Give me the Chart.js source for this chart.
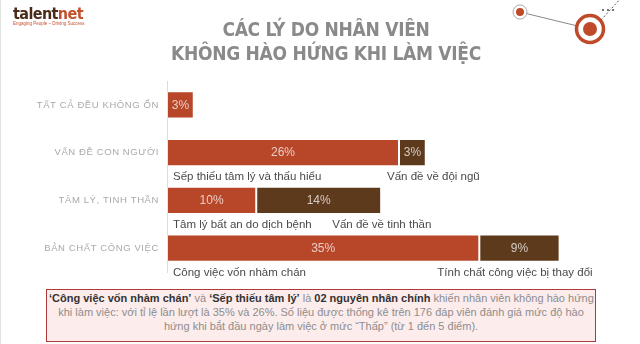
<!DOCTYPE html>
<html>
<head>
<meta charset="utf-8">
<script src="https://cdn.jsdelivr.net/npm/chart.js@4"></script>
<style>
  html, body { margin: 0; padding: 0; background: #fff; }
  #slide { position: relative; width: 640px; height: 344px; overflow: hidden; border-left: 1px solid #e2e2e2; box-sizing: border-box; }
  #chart { position: absolute; left: 0; top: 0; }
  .logo { position: absolute; left: 12px; top: 4px; font: bold 16px "DejaVu Sans Condensed", sans-serif; color: #4a2a18; letter-spacing: -0.6px; }
  .logo span { color: #c4512b; }
  .logo small { display: block; font: 4.5px "Liberation Sans", sans-serif; color: #c4512b; margin-top: -2px; letter-spacing: 0; }
  .title { position: absolute; left: 0; width: 650px; top: 17px; text-align: center; font: bold 19px/24px "DejaVu Sans Condensed", sans-serif; color: #8a8a8a; letter-spacing: -0.3px; }
  .note { position: absolute; left: 45px; top: 289px; width: 550px; height: 53px; box-sizing: border-box; background: #fcecec; border: 1.5px solid #b03a3a; padding: 1px 2px 0; text-align: center; font: 11px/14px "Liberation Sans", sans-serif; color: #8d8d8d; white-space: nowrap; }
  .note b { color: #333; }
  .deco { position: absolute; left: 500px; top: 0; }
</style>
</head>
<body>
<div id="slide">
  <canvas id="chart" width="640" height="344"></canvas>
  <div class="logo">talent<span>net</span><small>Engaging People – Driving Success</small></div>
  <div class="title">CÁC LÝ DO NHÂN VIÊN<br>KHÔNG HÀO HỨNG KHI LÀM VIỆC</div>
  <svg class="deco" width="140" height="60">
    <line x1="19" y1="12" x2="89" y2="29" stroke="#888" stroke-width="1"/>
    <line x1="100" y1="20" x2="120" y2="-2" stroke="#555" stroke-width="1" stroke-dasharray="2 2"/>
    <circle cx="19" cy="12" r="7" fill="#fff" stroke="#aaa" stroke-width="1"/>
    <circle cx="19" cy="12" r="4" fill="#bf4a2a"/>
    <circle cx="89" cy="29" r="13.5" fill="#fff" stroke="#bf4a2a" stroke-width="3.5"/>
    <circle cx="89" cy="29" r="7" fill="#bf4a2a"/>
    <circle cx="102" cy="10" r="0.9" fill="#333"/>
    <circle cx="107" cy="10" r="0.9" fill="#333"/>
    <circle cx="112" cy="10" r="0.9" fill="#333"/>
  </svg>
  <div class="note"><b>‘Công việc vốn nhàm chán’</b> và <b>‘Sếp thiếu tâm lý’</b> là <b>02 nguyên nhân chính</b> khiến nhân viên không hào hứng<br>khi làm việc: với tỉ lệ lần lượt là 35% và 26%. Số liệu được thống kê trên 176 đáp viên đánh giá mức độ hào<br>hứng khi bắt đầu ngày làm việc ở mức “Thấp” (từ 1 đến 5 điểm).</div>
</div>
<script>
const categories = ["TẤT CẢ ĐỀU KHÔNG ỔN", "VẤN ĐỀ CON NGƯỜI", "TÂM LÝ, TINH THẦN", "BẢN CHẤT CÔNG VIỆC"];
const mainValues = [3, 26, 10, 35];
const otherValues = [null, 3, 14, 9];
const mainNames = ["", "Sếp thiếu tâm lý và thấu hiểu", "Tâm lý bất an do dịch bệnh", "Công việc vốn nhàm chán"];
const otherNames = ["", "Vấn đề về đội ngũ", "Vấn đề về tinh thần", "Tính chất công việc bị thay đổi"];

// pixel shift of the second caption from the start of the brown segment
const otherShift = [0, -12, 76, -42];

const rowLabels = {
  id: 'rowLabels',
  afterDatasetsDraw(chart) {
    const { ctx, chartArea, scales } = chart;
    ctx.save();
    ctx.textBaseline = 'middle';

    // category names left of the axis
    ctx.font = '9.5px "Liberation Sans", sans-serif';
    ctx.letterSpacing = '0.6px';
    ctx.fillStyle = '#a9a9a9';
    ctx.textAlign = 'right';
    categories.forEach((c, i) => {
      ctx.fillText(c, chartArea.left - 8, scales.y.getPixelForValue(i));
    });
    ctx.letterSpacing = '0px';

    // percentages inside the bars
    ctx.font = '12px "Liberation Sans", sans-serif';
    ctx.fillStyle = 'rgba(255,255,255,0.72)';
    ctx.textAlign = 'center';
    chart.data.datasets.forEach((ds, di) => {
      chart.getDatasetMeta(di).data.forEach((bar, i) => {
        if (ds.data[i] == null) return;
        ctx.fillText(ds.data[i] + '%', (bar.x + bar.base) / 2, bar.y + 0.5);
      });
    });

    // captions under the bars
    ctx.font = '11.5px "Liberation Sans", sans-serif';
    ctx.fillStyle = '#4a4a4a';
    ctx.textAlign = 'left';
    const mainBars = chart.getDatasetMeta(0).data;
    const otherBars = chart.getDatasetMeta(1).data;
    mainBars.forEach((bar, i) => {
      const y = bar.y + bar.height / 2 + 11;
      if (mainNames[i]) ctx.fillText(mainNames[i], bar.base + 6, y);
      if (otherNames[i]) ctx.fillText(otherNames[i], otherBars[i].base + otherShift[i], y);
    });
    ctx.restore();
  }
};

new Chart(document.getElementById('chart'), {
  type: 'bar',
  data: {
    labels: categories,
    datasets: [
      { label: 'main', data: mainValues, backgroundColor: '#b8472a', borderColor: 'rgba(255,255,255,0.25)', borderWidth: 1, borderSkipped: false },
      { label: 'other', data: otherValues, backgroundColor: '#5e3a1d', borderColor: 'rgba(255,255,255,0.25)', borderWidth: 1, borderSkipped: false }
    ]
  },
  options: {
    indexAxis: 'y',
    responsive: false,
    animation: false,
    layout: { padding: { left: 166, right: 10, top: 81, bottom: 72 } },
    plugins: { legend: { display: false }, tooltip: { enabled: false } },
    datasets: { bar: { categoryPercentage: 1, barPercentage: 0.57 } },
    scales: {
      x: { stacked: true, min: 0, max: 52, display: false },
      y: {
        stacked: true,
        ticks: { display: false },
        grid: { display: false, drawTicks: false },
        border: { display: true, color: '#dcdcdc', width: 1 }
      }
    }
  },
  plugins: [rowLabels]
});
</script>
</body>
</html>
